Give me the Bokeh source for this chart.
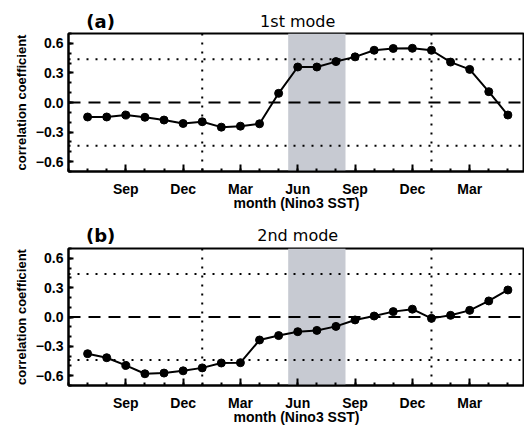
import numpy as np
from bokeh.plotting import figure
from bokeh.layouts import column
from bokeh.models import (FixedTicker, LinearAxis, Span, BoxAnnotation, Label, Range1d)
from bokeh.embed import file_html
from bokeh.resources import INLINE

# ---------------- data ----------------
months = ["Jul", "Aug", "Sep", "Oct", "Nov", "Dec", "Jan", "Feb", "Mar", "Apr", "May",
          "Jun", "Jul", "Aug", "Sep", "Oct", "Nov", "Dec", "Jan", "Feb", "Mar", "Apr", "May"]
mode1 = [-0.147, -0.147, -0.127, -0.150, -0.178, -0.213, -0.195, -0.250, -0.240, -0.216,
         0.093, 0.360, 0.360, 0.415, 0.463, 0.530, 0.548, 0.550, 0.530, 0.410, 0.336,
         0.110, -0.127]
mode2 = [-0.375, -0.416, -0.495, -0.580, -0.573, -0.550, -0.520, -0.470, -0.467, -0.235,
         -0.190, -0.150, -0.137, -0.096, -0.030, 0.010, 0.055, 0.080, -0.014, 0.017,
         0.068, 0.164, 0.276]
tick_labels = ["Sep", "Dec", "Mar", "Jun", "Sep", "Dec", "Mar"]
tick_months = [3, 6, 9, 12, 15, 18, 21]
y_ticks = [-0.6, -0.3, 0.0, 0.3, 0.6]
y_tick_labels = ["\u22120.6", "\u22120.3", "0.0", "0.3", "0.6"]
signif = 0.44
jan_lines = [7, 19]
shade = (11.5, 14.5)
panel_tags = ["(a)", "(b)"]
panel_titles = ["1st mode", "2nd mode"]

x = list(range(1, len(months) + 1))
FONT = "Liberation Sans"
X_END = 23.87


def make_header(tag, title, height):
    h = figure(width=524, height=height, output_backend="svg", toolbar_location=None,
               x_range=Range1d(0, X_END), y_range=Range1d(0, height),
               min_border_left=68, min_border_right=0, min_border_top=0, min_border_bottom=0,
               x_axis_location=None, y_axis_location=None)
    h.title.visible = False
    h.outline_line_color = None
    h.grid.visible = False
    h.add_layout(Label(x=1.68, y=height - 20.8, text=tag, text_align="center",
                       text_baseline="middle", text_font="DejaVu Sans",
                       text_font_style="bold", text_font_size="18px", text_color="black"))
    h.add_layout(Label(x=12.0, y=height - 21.0, text=title, text_align="center",
                       text_baseline="middle", text_font="DejaVu Sans",
                       text_font_size="16px", text_color="black"))
    return h


def make_panel(vals, height, bottom):
    p = figure(width=524, height=height, output_backend="svg", toolbar_location=None,
               x_range=Range1d(0, X_END), y_range=Range1d(-0.7, 0.7),
               min_border_left=68, min_border_right=0,
               min_border_top=1, min_border_bottom=bottom,
               x_axis_location=None, y_axis_location=None)
    p.title.visible = False
    p.outline_line_color = "black"
    p.outline_line_width = 2
    p.grid.visible = False
    p.background_fill_color = "white"
    p.border_fill_color = "white"

    xt = FixedTicker(ticks=tick_months, minor_ticks=list(range(0, 25)))
    yt = FixedTicker(ticks=y_ticks, minor_ticks=[round(v * 0.1, 1) for v in range(-7, 8)])

    bottom_ax = LinearAxis(ticker=xt, axis_label="month (Nino3 SST)")
    bottom_ax.major_label_overrides = {m: l for m, l in zip(tick_months, tick_labels)}
    left_ax = LinearAxis(ticker=yt, axis_label="correlation coefficient")
    left_ax.major_label_overrides = {v: l for v, l in zip(y_ticks, y_tick_labels)}

    for ax in (bottom_ax, left_ax):
        ax.axis_line_width = 2
        ax.axis_line_color = "black"
        ax.major_tick_line_width = 2
        ax.minor_tick_line_width = 2
        ax.major_tick_line_color = "black"
        ax.minor_tick_line_color = "black"
        ax.major_tick_out = 0
        ax.minor_tick_out = 0
        ax.major_label_text_font = FONT
        ax.major_label_text_font_style = "bold"
        ax.major_label_text_color = "black"
        ax.major_label_text_font_size = "14px"
        ax.axis_label_text_font = FONT
        ax.axis_label_text_font_style = "bold"
        ax.axis_label_text_color = "black"
        ax.axis_label_text_font_size = "14px"
    left_ax.axis_label_text_font_size = "13px"
    bottom_ax.major_tick_in = 7
    bottom_ax.minor_tick_in = 3
    bottom_ax.major_label_standoff = 9
    bottom_ax.axis_label_standoff = -5
    left_ax.major_tick_in = 5
    left_ax.minor_tick_in = 3
    left_ax.major_label_standoff = 5
    left_ax.axis_label_standoff = 4

    p.add_layout(bottom_ax, "below")
    p.add_layout(left_ax, "left")

    p.add_layout(BoxAnnotation(left=shade[0], right=shade[1], fill_color="#c7cad2",
                               fill_alpha=1.0, line_color=None, level="underlay"))
    p.add_layout(Span(location=0, dimension="width", line_color="black",
                      line_width=2, line_dash="12 8"))
    for s in (signif, -signif):
        p.add_layout(Span(location=s, dimension="width", line_color="black",
                          line_width=2, line_dash="2 7"))
    for j in jan_lines:
        p.add_layout(Span(location=j, dimension="height", line_color="black",
                          line_width=2, line_dash="2 7"))

    p.line(x, vals, line_color="black", line_width=2)
    p.scatter(x, vals, size=8, fill_color="black", line_color="black")
    return p


h1 = make_header(panel_tags[0], panel_titles[0], 32)
p1 = make_panel(mode1, 182, 43)
h2 = make_header(panel_tags[1], panel_titles[1], 33)
p2 = make_panel(mode2, 180, 41)
layout = column(h1, p1, h2, p2, spacing=0)

open("out.html", "w").write(file_html(layout, INLINE))
